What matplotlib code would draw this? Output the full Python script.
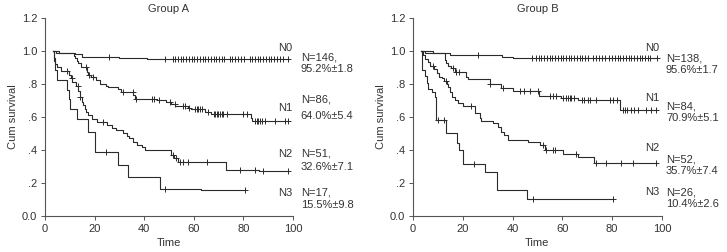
import numpy as np
import matplotlib
matplotlib.use("Agg")
import matplotlib.pyplot as plt

plt.rcParams['font.family'] = ['Liberation Sans', 'DejaVu Sans']
plt.rcParams['font.size'] = 8

""" Kaplan-Meier curves read off the figure: step times, survival, censor times """

# ---- Group A ----
a_n0_t = [3.4, 5.5, 12, 15, 30, 41, 98]
a_n0_s = [1.0, 0.99, 0.98, 0.966, 0.957, 0.952, 0.952]
a_n0_cens = [26, 48.4, 51.5, 52.5, 53.6, 54.7, 55.8, 57, 58.1, 59.2, 60.3, 61.4, 62.5, 63.6, 64.7,
             65.8, 66.9, 68, 69.1, 70.2, 71.3, 72.4, 74.5, 75.6, 76.7, 78, 79.2, 80.3, 82.5, 83.6,
             84.7, 85.8, 86.9, 88, 89.1, 90.2, 91.3, 92.4, 93.5, 94.6, 96, 98]

a_n1_t = [3.4, 4.5, 11.5, 12.2, 12.8, 13.5, 14.5, 16.8, 17.3, 18.5, 20.5, 22, 24.5, 25.5, 29.5,
          30.5, 35.5, 36.2, 45, 49, 51, 52.5, 57.5, 59, 64.5, 67, 83, 83.6, 98]
a_n1_s = [1.0, 0.99, 0.97, 0.955, 0.94, 0.925, 0.905, 0.875, 0.855, 0.84, 0.825, 0.80, 0.79, 0.78,
          0.77, 0.75, 0.73, 0.71, 0.70, 0.693, 0.68, 0.667, 0.657, 0.646, 0.632, 0.616, 0.595, 0.578,
          0.578]
a_n1_cens = [16.5, 17.6, 19.5, 31.6, 35.3, 36.6, 43, 44, 46, 50.4, 52.4, 55.8, 56.5, 58.2, 60.5,
             61.2, 61.8, 62.4, 63.3, 65.7, 68, 68.6, 69.2, 69.9, 70.6, 71.2, 71.8, 73.5, 80, 81.3,
             84.7, 85.4, 86, 86.7, 87.4, 88.7, 92.7, 96.8, 98.1]

a_n2_t = [3.4, 3.6, 4.2, 5, 6.5, 9.5, 10.5, 11, 12.5, 13.5, 14, 15, 15.5, 16, 16.5, 17.5, 19, 21,
          25, 27, 28.5, 31.5, 33, 34, 35.5, 37, 39, 40.5, 51, 52, 53.5, 73, 86.5, 98]
a_n2_s = [1.0, 0.96, 0.92, 0.90, 0.88, 0.855, 0.835, 0.81, 0.79, 0.755, 0.72, 0.69, 0.67, 0.65,
          0.63, 0.61, 0.59, 0.57, 0.55, 0.535, 0.52, 0.50, 0.485, 0.47, 0.45, 0.43, 0.415, 0.40,
          0.37, 0.35, 0.325, 0.279, 0.27, 0.27]
a_n2_cens = [8.7, 10.9, 13.3, 14.1, 23.3, 51.5, 53, 54.4, 55.6, 57.7, 65.2, 78.6, 84.7, 88, 98.1]

a_n3_t = [3.4, 3.6, 4.2, 5, 9, 9.5, 10.1, 12.8, 17.5, 20.2, 29.5, 33.6, 46.4, 63, 80.5]
a_n3_s = [1.0, 0.941, 0.882, 0.824, 0.765, 0.706, 0.647, 0.588, 0.51, 0.39, 0.309, 0.238, 0.162,
          0.155, 0.155]
a_n3_cens = [24.6, 48.3, 80.5]

# ---- Group B ----
b_n0_t = [3.4, 8, 15, 35.6, 40, 98]
b_n0_s = [1.0, 0.99, 0.976, 0.962, 0.956, 0.956]
b_n0_cens = [26.2, 47.7, 49.5, 50.6, 51.6, 52.7, 53.8, 54.9, 56, 57.1, 58.2, 59.3, 60.4, 61.4,
             62.5, 63.6, 64.7, 65.8, 66.9, 68, 69.1, 70.5, 72.5, 73.6, 74.7, 75.8, 77.2, 78.9, 80,
             81.1, 82.2, 83.3, 84.4, 85.5, 86.6, 87.7, 88.8, 89.9, 91, 92.1, 93.2, 94.3, 95.4, 97.9]

b_n1_t = [3.4, 5, 12.7, 13.4, 14, 15.3, 16.7, 21.4, 22, 30.8, 35.5, 40, 50.5, 59.6, 66.4, 83.1, 98]
b_n1_s = [1.0, 0.985, 0.945, 0.925, 0.91, 0.895, 0.875, 0.84, 0.828, 0.797, 0.775, 0.757, 0.727,
          0.715, 0.70, 0.645, 0.645]
b_n1_cens = [16, 17.4, 18.7, 31, 36.1, 42.8, 44.8, 46.9, 50.2, 54.9, 56.2, 57.6, 60.2, 61.5, 62.2,
             62.9, 63.6, 64.8, 67.8, 68.6, 70.5, 71.2, 73.7, 79.1, 80.5, 81.8, 84.5, 85.2, 86, 87.4,
             88.8, 90.2, 93.6, 95.8, 97.8]

b_n2_t = [3.4, 4, 5, 6, 7, 8.5, 9.5, 10.5, 11.5, 12.5, 13.6, 14.2, 15, 15.8, 16.7, 18, 20, 24.8,
          26.8, 27.4, 32.1, 34.1, 35.5, 36.5, 38.2, 46.2, 50.9, 52.9, 60.4, 66.3, 72.8, 98]
b_n2_s = [1.0, 0.975, 0.95, 0.93, 0.91, 0.89, 0.865, 0.845, 0.834, 0.82, 0.80, 0.78, 0.75, 0.72,
          0.703, 0.685, 0.665, 0.622, 0.592, 0.578, 0.562, 0.541, 0.511, 0.491, 0.46, 0.45, 0.43,
          0.40, 0.376, 0.36, 0.323, 0.323]
b_n2_cens = [8.2, 13.2, 23.4, 52.2, 53.5, 56.2, 56.9, 65.3, 73.7, 77.7, 83.7, 88.4, 97.8]

b_n3_t = [3.4, 3.6, 4.8, 5.5, 6.2, 7.5, 8.8, 9.4, 13.4, 17.5, 18.6, 20.2, 29, 33.6, 46, 80.5]
b_n3_s = [1.0, 0.885, 0.846, 0.808, 0.77, 0.75, 0.72, 0.582, 0.50, 0.44, 0.40, 0.313, 0.265,
          0.16, 0.104, 0.104]
b_n3_cens = [10.2, 12.4, 24.5, 48.2, 80.5]

# labels: (group tag, "N=..,", "pct±se")
a_labels = [('N0', 'N=146,', '95.2%±1.8'), ('N1', 'N=86,', '64.0%±5.4'),
            ('N2', 'N=51,', '32.6%±7.1'), ('N3', 'N=17,', '15.5%±9.8')]
b_labels = [('N0', 'N=138,', '95.6%±1.7'), ('N1', 'N=84,', '70.9%±5.1'),
            ('N2', 'N=52,', '35.7%±7.4'), ('N3', 'N=26,', '10.4%±2.6')]

# label y positions (data units) for the tag and the two text lines
a_label_y = [(1.015, 0.962, 0.893), (0.655, 0.703, 0.606), (0.376, 0.376, 0.297), (0.14, 0.14, 0.067)]
b_label_y = [(1.02, 0.952, 0.883), (0.715, 0.662, 0.593), (0.41, 0.345, 0.273), (0.145, 0.145, 0.073)]

line_col = '#2b2b2b'
text_col = '#333333'


def draw_km(ax, t, s, cens):
    t = np.asarray(t)
    s = np.asarray(s)
    ax.step(t, s, where='post', color=line_col, lw=0.8)
    idx = np.searchsorted(t, cens, side='right') - 1
    ax.plot(cens, s[idx], linestyle='none', marker='+', ms=5, mew=0.7, color=line_col)


def style_axes(ax, title):
    ax.set_xlim(0, 100)
    ax.set_ylim(0, 1.2)
    ax.set_xticks([0, 20, 40, 60, 80, 100])
    ax.set_yticks([0, 0.2, 0.4, 0.6, 0.8, 1.0, 1.2])
    ax.set_yticklabels(['0.0', '.2', '.4', '.6', '.8', '1.0', '1.2'])
    for side in ['top', 'right']:
        ax.spines[side].set_visible(False)
    for side in ['left', 'bottom']:
        ax.spines[side].set_color('#555555')
        ax.spines[side].set_linewidth(0.8)
    ax.tick_params(direction='out', length=3, width=0.7, colors='#555555', labelcolor=text_col,
                   labelsize=8, pad=2.5)
    ax.set_title(title, fontsize=8, color=text_col, pad=4)
    ax.set_xlabel('Time', fontsize=8, color=text_col, labelpad=3)
    ax.set_ylabel('Cum survival', fontsize=8, color=text_col, labelpad=3)


fig = plt.figure(figsize=(7.27, 2.52), dpi=100)
ax_a = fig.add_axes([0.0619, 0.1429, 0.341, 0.786])
ax_b = fig.add_axes([0.568, 0.1429, 0.3425, 0.786])

for t, s, c in [(a_n0_t, a_n0_s, a_n0_cens), (a_n1_t, a_n1_s, a_n1_cens),
                (a_n2_t, a_n2_s, a_n2_cens), (a_n3_t, a_n3_s, a_n3_cens)]:
    draw_km(ax_a, t, s, c)
for t, s, c in [(b_n0_t, b_n0_s, b_n0_cens), (b_n1_t, b_n1_s, b_n1_cens),
                (b_n2_t, b_n2_s, b_n2_cens), (b_n3_t, b_n3_s, b_n3_cens)]:
    draw_km(ax_b, t, s, c)

style_axes(ax_a, 'Group A')
style_axes(ax_b, 'Group B')

for ax, labels, ys, tag_x, txt_x in [(ax_a, a_labels, a_label_y, 97, 103.2),
                                      (ax_b, b_labels, b_label_y, 96, 101.6)]:
    for (tag, n_txt, pct), (y_tag, y_n, y_p) in zip(labels, ys):
        ax.text(tag_x, y_tag, tag, ha='center', va='center', fontsize=8, color=text_col, clip_on=False)
        ax.text(txt_x, y_n, n_txt, ha='left', va='center', fontsize=8, color=text_col, clip_on=False)
        ax.text(txt_x, y_p, pct, ha='left', va='center', fontsize=8, color=text_col, clip_on=False)

fig.savefig('out.png', dpi=100)
